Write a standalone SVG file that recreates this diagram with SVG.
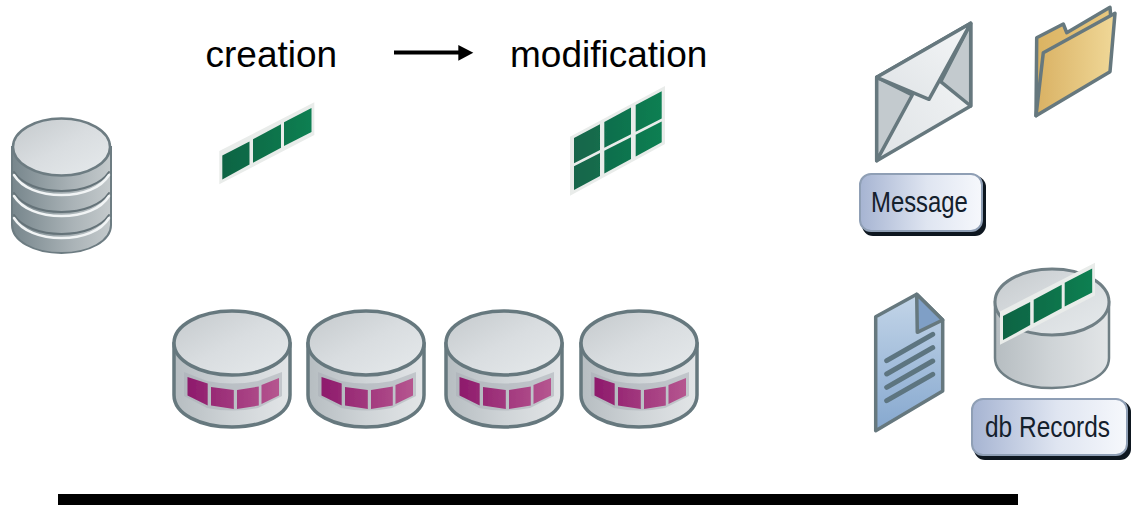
<svg xmlns="http://www.w3.org/2000/svg" width="1134" height="505" viewBox="0 0 1134 505">
<style>
.lbl{font-family:"Liberation Sans",Arial,sans-serif;font-size:37px;fill:#000}
.btn{font-family:"Liberation Sans",Arial,sans-serif;font-size:30px;fill:#14202c}
.ol{stroke:#66787e;stroke-width:3.500;stroke-linejoin:round}
.top{fill:url(#gTop)}
.body{fill:url(#gBody)}
.green{fill:url(#gGreen)}
.mag{fill:url(#gMag)}
.frame{fill:#e9ecea}
.dl{fill:none;stroke:#5d7480;stroke-width:5;stroke-linecap:round}
.soft{filter:url(#soft)}
</style>
<defs>
<filter id="soft" x="-5%" y="-5%" width="110%" height="110%"><feGaussianBlur stdDeviation="0.4"/></filter>
<linearGradient id="gTop" x1="0" y1="0" x2="1" y2="1"><stop offset="0" stop-color="#c4c9cc"/><stop offset=".5" stop-color="#d9dde0"/><stop offset="1" stop-color="#e6eaec"/></linearGradient>
<linearGradient id="gBody" x1="0" y1="0" x2="1" y2="0"><stop offset="0" stop-color="#b6bdc1"/><stop offset=".5" stop-color="#cfd4d7"/><stop offset="1" stop-color="#e2e5e7"/></linearGradient>
<linearGradient id="gStack" x1="0" y1="0" x2="1" y2="0"><stop offset="0" stop-color="#77868c"/><stop offset=".6" stop-color="#a9b2b6"/><stop offset="1" stop-color="#c4cacc"/></linearGradient>
<linearGradient id="gGreen" gradientUnits="userSpaceOnUse" x1="220" y1="0" x2="314" y2="0"><stop offset="0" stop-color="#0f6343"/><stop offset="1" stop-color="#0b8052"/></linearGradient>
<linearGradient id="gGreen2" gradientUnits="userSpaceOnUse" x1="570" y1="0" x2="665" y2="0"><stop offset="0" stop-color="#15644a"/><stop offset="1" stop-color="#0b8052"/></linearGradient>
<linearGradient id="gMag" gradientUnits="userSpaceOnUse" x1="188" y1="0" x2="278" y2="0"><stop offset="0" stop-color="#8e1a6c"/><stop offset="1" stop-color="#b5558f"/></linearGradient>
<linearGradient id="gFolder" x1="0" y1="0" x2="1" y2="0"><stop offset="0" stop-color="#d9b163"/><stop offset="1" stop-color="#f0d898"/></linearGradient>
<linearGradient id="gFlap" x1="0" y1="0" x2="1" y2="0"><stop offset="0" stop-color="#dbb362"/><stop offset="1" stop-color="#e8c87f"/></linearGradient>
<linearGradient id="gEnv" x1="0" y1="1" x2="1" y2="0"><stop offset="0" stop-color="#dfe3e6"/><stop offset="1" stop-color="#f4f6f7"/></linearGradient>
<linearGradient id="gDoc" x1="0" y1="0" x2="0" y2="1"><stop offset="0" stop-color="#c3d5e8"/><stop offset="1" stop-color="#86a8cf"/></linearGradient>
<linearGradient id="gBtn" x1="0" y1="0" x2="1" y2="0"><stop offset="0" stop-color="#a6b4d2"/><stop offset=".55" stop-color="#dfe5f1"/><stop offset="1" stop-color="#f6f8fc"/></linearGradient>
<g id="disc">
<path class="ol body" d="M174 343V395C174 414 200 427 232 427S290 414 290 395V343Z"/>
<path d="M184 372 207 381Q232 386 258 381L282 372V396L258 408Q232 413 207 408L184 396Z" fill="#a9aeb6" opacity=".55"/>
<g class="mag"><path d="M187.500 377 207.700 383.500V405.500L187.500 395.500Z"/><path d="M211 387 233.800 390V409L211 405.500Z"/><path d="M237 390 258.800 386.500V405.500L237 409Z"/><path d="M261.500 385 279 378V395.500L261.500 404Z"/></g>
<ellipse class="ol top" cx="232" cy="343" rx="58" ry="32"/>
</g>
<g id="strip">
<path class="frame" d="M219.300 151 314.300 102.300V135L219.300 184.300Z"/>
<g class="green"><path d="M222.300 155.500 249.500 141.500V164.500L222.300 179.500Z"/><path d="M253 139.300 281 124.300V147.800L253 162.800Z"/><path d="M284 122.300 311.500 108V132L284 146Z"/></g>
</g>
</defs>

<g id="connectors">
<path d="M394 52.500H460" stroke="#000" stroke-width="4" fill="none"/>
<path d="M458.300 45 473.300 52.700 458.300 60.700Z" fill="#000"/>
</g>

<g id="label-creation"><text class="lbl" x="205.500" y="67">creation</text></g>
<g id="label-modification"><text class="lbl" x="510" y="67">modification</text></g>

<g id="db-stack" class="soft">
<path d="M12 147V225C12 241 34 253 61.500 253S111 241 111 225V147Z" fill="url(#gStack)" stroke="#6d7c82" stroke-width="2"/>
<g fill="none" stroke-linecap="round">
<path d="M14 172C22 184 40 191 61.500 191S101 184 109 172" stroke="#657379" stroke-width="2"/>
<path d="M14 175C22 188 40 195 61.500 195S101 188 109 175" stroke="#f1f4f5" stroke-width="2.500"/>
<path d="M14 193C22 205 40 212 61.500 212S101 205 109 193" stroke="#657379" stroke-width="2"/>
<path d="M14 196C22 209 40 216 61.500 216S101 209 109 196" stroke="#f1f4f5" stroke-width="2.500"/>
<path d="M14 215C22 227 40 234 61.500 234S101 227 109 215" stroke="#657379" stroke-width="2"/>
<path d="M14 218C22 231 40 238 61.500 238S101 231 109 218" stroke="#f1f4f5" stroke-width="2.500"/>
</g>
<ellipse class="top" cx="61.500" cy="147" rx="48.500" ry="28.500" stroke="#6d7c82" stroke-width="2.500"/>
</g>

<g id="strip-creation" class="soft"><use href="#strip"/></g>

<g id="grid-modification" class="soft">
<path class="frame" d="M570 136.700 665 86V144L570 195.700Z"/>
<g fill="url(#gGreen2)">
<path d="M574 138.100 600 124.200V149.900L574 163.200Z"/><path d="M574 166.200 600 152.900V175.900L574 190Z"/>
<path d="M604.300 121.900 631 107.600V134.200L604.300 147.700Z"/><path d="M604.300 150.700 631 137.200V159L604.300 173.500Z"/>
<path d="M635.700 105.100 661.700 91.200V118.500L635.700 131.800Z"/><path d="M635.700 134.800 661.700 121.500V142.300L635.700 156.500Z"/>
</g>
</g>

<g id="disc-1" class="soft"><use href="#disc"/></g>
<g id="disc-2" class="soft"><use href="#disc" x="134"/></g>
<g id="disc-3" class="soft"><use href="#disc" x="272"/></g>
<g id="disc-4" class="soft"><use href="#disc" x="407"/></g>

<g id="envelope" class="soft">
<path class="ol" fill="url(#gEnv)" d="M876.700 77.300 970.700 23.300V106L876.700 160.700Z"/>
<path class="ol" fill="#c3cace" d="M876.700 77.300 912.300 95 876.700 160.700Z"/>
<path class="ol" fill="#c3cace" d="M970.700 23.300V106L940.700 81.700Z"/>
<path class="ol" fill="url(#gEnv)" d="M876.700 77.300 970.700 23.300 929 99.300Z"/>
</g>

<g id="folder" class="soft">
<path class="ol" fill="url(#gFlap)" d="M1036.700 37.700 1063.300 24 1066.700 32.700 1110 7.300 1111 20 1036 115.700Z"/>
<path class="ol" fill="url(#gFolder)" d="M1043.300 52.700 1115 13.300 1110 71.700 1036 115.700Z"/>
</g>

<g id="message-button">
<rect x="862" y="176" width="124" height="60" rx="11" fill="#0e1720"/>
<rect x="860" y="174" width="122" height="57" rx="11" fill="url(#gBtn)" stroke="#8f9fb5" stroke-width="2"/>
<text class="btn" transform="translate(871 212) scale(.796 1)">Message</text>
</g>

<g id="document" class="soft">
<path class="ol" fill="url(#gDoc)" d="M875.700 316.700 916.700 294.300 942.700 320V391L875.700 430.700Z"/>
<path class="ol" fill="#7f9fc6" d="M916.700 294.300 917.300 332.300 942.700 320Z"/>
<path class="dl" d="M886.700 360.700 932.700 334.300M886.700 374 932.700 347.700M886.700 387.300 932.700 361M886.700 400.700 932.700 374.300"/>
</g>

<g id="db-records" class="soft">
<path d="M995 302V358C995 376 1021 388 1052 388S1109 376 1109 358V302Z" fill="url(#gBody)" stroke="#6f7f85" stroke-width="2.500"/>
<ellipse cx="1052" cy="302" rx="57" ry="33" fill="url(#gTop)" stroke="#6f7f85" stroke-width="3"/>
<use href="#strip" x="780.700" y="160.500"/>
</g>

<g id="records-button">
<rect x="974" y="401" width="157" height="59" rx="11" fill="#0e1720"/>
<rect x="972" y="399" width="155" height="56" rx="11" fill="url(#gBtn)" stroke="#8f9fb5" stroke-width="2"/>
<text class="btn" transform="translate(985 437) scale(.815 1)">db Records</text>
</g>

<rect id="bar" x="58" y="494" width="960" height="11" fill="#000"/>
</svg>
